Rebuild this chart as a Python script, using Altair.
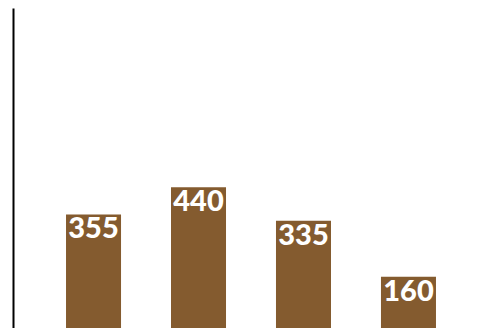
import altair as alt
import pandas as pd

categories = ["A", "B", "C", "D"]
values = [355, 440, 335, 160]

df = pd.DataFrame({"cat": categories, "value": values})

base = alt.Chart(df).encode(
    x=alt.X("cat:N", sort=categories, axis=None,
            scale=alt.Scale(range=[0, 476], paddingInner=0.476, paddingOuter=0.505)),
    y=alt.Y("value:Q", scale=alt.Scale(domain=[0, 1000], nice=False),
            axis=alt.Axis(title=None, labels=False, ticks=False, grid=False,
                          domainColor="#000000", domainWidth=2)),
)

bars = base.mark_bar(color="#845b2f")
labels = base.mark_text(color="white", font="Lato", fontWeight=900,
                        fontSize=29, baseline="alphabetic", align="center",
                        dy=24).encode(text="value:Q")

chart = (bars + labels).properties(
    width=455, height=320,
    padding={"left": 5, "top": 0, "right": 0, "bottom": 0},
    autosize=alt.AutoSizeParams(type="none"),
).configure_view(stroke=None)

chart.save("out.html", embed_options={"renderer": "svg", "actions": False})
